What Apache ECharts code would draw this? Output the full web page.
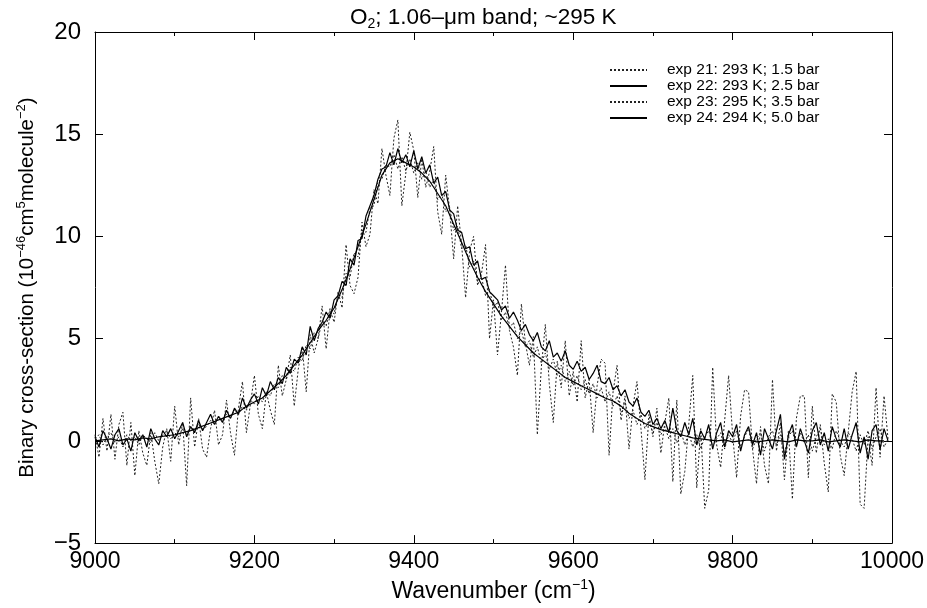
<!DOCTYPE html>
<html>
<head>
<meta charset="utf-8">
<script src="https://cdn.jsdelivr.net/npm/echarts@6/dist/echarts.min.js"></script>
<style>html,body{margin:0;padding:0;background:#fff}#c{width:927px;height:608px}</style>
</head>
<body>
<div id="c"></div>
<script>
// Wavenumber sampling (cm^-1)
const wnStart = 9000;
const stepFine = 5;    // exp 21, 22, 23
const stepCoarse = 10; // exp 24

const seriesNames = [
  'exp 21: 293 K; 1.5 bar',
  'exp 22: 293 K; 2.5 bar',
  'exp 23: 295 K; 3.5 bar',
  'exp 24: 294 K; 5.0 bar'
];

const xTicks = [9000, 9200, 9400, 9600, 9800, 10000];
const yTicks = [-5, 0, 5, 10, 15, 20];

// exp 21 (1.5 bar), 9000..9995 step 5
const exp21 = [
 0.3,-0.8,1.1,-0.5,1.3,-0.9,0.8,1.4,-1.2,0.9,
 -1.7,0.5,-0.6,-1.2,0.4,-1.0,-2.1,-0.3,0.6,-1.0,
 1.7,-0.2,0.9,-2.2,2.1,-0.3,1.1,-0.4,-0.8,0.6,
 1.5,-0.2,0.3,2.0,0.4,-0.7,1.6,2.9,0.4,1.8,
 3.2,1.3,0.6,2.4,1.5,0.8,3.7,2.2,3.0,4.2,
 1.7,3.5,4.6,2.4,5.2,4.3,5.0,6.6,4.5,6.4,
 5.8,7.3,6.5,9.6,7.6,7.2,8.0,10.7,9.5,10.1,
 12.3,11.6,14.3,13.0,12.0,14.8,15.7,11.5,13.1,15.1,
 14.2,11.9,13.8,12.4,13.2,14.4,11.2,10.1,13.0,11.3,
 8.9,11.5,9.6,7.0,9.3,10.0,7.6,8.2,9.6,5.0,
 6.9,4.2,6.3,8.6,5.4,4.6,3.2,6.7,4.8,3.7,
 5.1,0.3,3.6,5.7,2.8,0.9,3.9,2.6,4.9,2.2,
 3.4,1.9,4.9,2.1,3.0,0.4,2.7,4.0,3.8,-0.7,
 2.4,3.7,1.0,2.2,-0.4,1.7,2.9,0.6,-1.9,1.3,
 0.2,1.6,-0.6,0.9,2.1,-2.0,2.0,-2.6,-1.5,0.8,
 3.2,-2.3,0.6,-3.3,-2.4,3.6,-0.2,-1.3,1.0,3.2,
 0.3,-1.8,1.2,2.5,2.4,-0.4,-2.1,0.7,-1.2,-2.1,
 3.0,-0.5,0.9,-1.9,0.5,-2.85,1.1,2.2,2.2,-1.8,
 1.7,-0.6,0.8,-1.1,-2.5,2.3,1.9,-0.7,-1.7,0.4,
 2.4,3.4,-3.1,-3.3,0.2,-1.2,2.6,-0.8,2.2,0.1
];

// exp 22 (2.5 bar), 9000..9995 step 5
const exp22 = [
 0.2,-0.3,0.5,0.1,-0.4,0.3,0.6,-0.2,0.1,-0.5,
 0.4,0.0,0.3,-0.3,0.6,0.1,-0.2,0.5,0.2,0.6,
 0.1,0.5,0.9,0.2,0.7,0.4,1.0,0.5,0.9,1.3,
 0.8,1.2,0.9,1.5,1.1,1.6,1.3,2.1,1.6,2.0,
 2.3,1.8,2.6,2.2,2.9,2.5,3.1,2.8,3.6,3.3,
 4.0,3.8,4.6,4.2,5.6,4.9,5.5,5.8,6.3,6.0,
 6.9,7.1,7.8,7.6,8.9,8.6,9.8,9.9,11.0,11.5,
 12.0,12.8,13.3,13.4,14.1,13.5,14.3,13.6,14.0,13.4,
 14.2,13.3,13.9,13.1,13.5,12.6,12.9,12.0,12.2,11.3,
 11.1,10.3,10.2,9.4,9.5,8.6,8.8,7.9,8.0,7.3,
 7.1,6.9,6.4,6.6,6.0,6.3,5.9,5.4,5.7,5.2,
 4.9,5.3,4.6,4.4,4.9,4.1,4.3,3.9,4.4,3.7,
 3.5,3.9,3.4,3.6,3.0,3.3,3.7,2.9,2.8,3.1,
 2.5,2.7,2.2,2.5,1.9,1.7,2.1,1.4,1.2,1.5,
 0.8,1.1,0.6,1.0,0.4,1.6,0.5,0.2,0.9,0.3,
 1.1,-0.2,0.5,0.1,0.8,-0.4,0.4,0.9,-0.3,0.5,
 0.2,0.8,-0.5,0.3,0.7,-0.2,0.4,-0.7,0.6,0.1,
 -0.4,0.5,1.3,-0.9,0.3,0.8,-0.3,0.6,0.0,-0.6,
 0.5,0.9,-0.2,0.4,-0.5,0.7,0.1,-0.3,0.6,-0.4,
 0.3,0.9,-0.6,0.2,-0.9,0.5,0.8,-0.4,0.6,0.0
];

// exp 23 (3.5 bar), 9000..9995 step 5
const exp23 = [
 0.1,0.3,-0.2,0.2,0.4,-0.1,0.2,-0.3,0.3,0.0,
 0.2,-0.2,0.3,0.1,-0.1,0.4,0.0,0.3,0.5,0.1,
 0.4,0.2,0.6,0.3,0.7,0.5,0.8,0.6,0.7,1.0,
 0.8,1.2,1.0,1.3,1.1,1.5,1.3,1.7,1.5,2.0,
 1.8,2.2,1.9,2.4,2.2,2.8,2.6,3.2,3.0,3.6,
 3.4,4.1,3.9,4.7,4.5,5.3,5.0,5.9,5.6,6.5,
 6.2,7.2,7.0,8.2,8.0,9.2,9.0,10.3,10.2,11.4,
 11.5,12.7,12.8,13.5,13.4,14.0,13.3,13.9,13.2,13.8,
 13.1,13.6,12.8,13.2,12.4,12.8,11.8,12.1,11.2,11.4,
 10.3,10.5,9.4,9.6,8.5,8.8,7.8,8.0,7.1,7.4,
 6.5,6.8,5.9,6.3,5.5,5.8,5.0,5.4,4.6,4.9,
 4.1,4.6,3.8,4.3,3.5,4.0,3.2,3.7,2.9,3.4,
 2.7,3.2,2.5,3.0,2.3,2.8,2.1,2.6,1.9,2.4,
 1.7,2.2,1.4,1.9,1.1,1.5,0.8,1.3,0.6,1.0,
 0.4,0.9,0.3,0.7,0.1,0.6,-0.1,0.5,-0.2,0.4,
 -0.3,0.3,-0.4,0.2,0.5,-0.3,0.1,0.4,-0.4,0.3,
 -0.1,0.5,-0.3,0.2,0.6,-0.4,0.1,0.4,-0.5,0.2,
 0.5,-0.2,0.3,-0.6,0.2,0.5,-0.3,0.4,-0.1,0.3,
 -0.5,0.2,0.6,-0.2,0.1,-0.4,0.5,0.0,-0.3,0.4,
 0.1,-0.5,0.3,-0.2,0.5,-0.4,0.2,0.6,-0.3,0.1
];

// exp 24 (5.0 bar), 9000..9990 step 10
const exp24 = [
 0.0,0.05,0.1,0.0,0.1,0.05,0.15,0.1,0.2,0.25,
 0.3,0.4,0.5,0.65,0.8,0.95,1.1,1.25,1.4,1.7,
 1.9,2.1,2.45,2.8,3.2,3.7,4.2,4.8,5.4,5.9,
 6.5,7.4,8.4,9.5,10.6,11.8,13.0,13.6,13.8,13.6,
 13.4,13.1,12.7,12.1,11.5,10.6,9.7,8.8,8.0,7.3,
 6.7,6.1,5.6,5.1,4.7,4.3,4.0,3.7,3.4,3.1,
 2.9,2.7,2.5,2.3,2.1,1.95,1.7,1.35,1.1,0.85,
 0.7,0.55,0.45,0.35,0.25,0.15,0.1,0.05,0.0,0.05,
 -0.05,0.0,0.05,-0.05,0.0,0.05,0.0,-0.05,0.05,0.0,
 0.0,0.05,-0.05,0.0,0.05,0.0,-0.05,0.05,0.0,0.0
];

function toPairs(values, start, step) {
  return values.map((v, i) => [start + i * step, v]);
}

const FONT = 'Liberation Sans, Arial, Helvetica, sans-serif';
const black = '#000';

const chart = echarts.init(document.getElementById('c'), null, {renderer: 'canvas'});

const mkSeries = (name, data, dotted, z) => ({
  name: name,
  type: 'line',
  data: data,
  showSymbol: false,
  symbol: 'none',
  animation: false,
  z: z,
  lineStyle: {color: dotted ? '#222' : black, width: dotted ? 1 : 1.2, type: dotted ? [2, 2] : 'solid'},
  itemStyle: {color: black}
});

chart.setOption({
  backgroundColor: '#fff',
  animation: false,
  title: {
    text: '{a|O}{s|2}{a|; 1.06–μm band; ~295 K}',
    left: 345,
    top: 0,
    textStyle: {
      fontFamily: FONT,
      fontWeight: 'normal',
      rich: {
        a: {fontSize: 22.5, color: black, fontFamily: FONT, lineHeight: 26, verticalAlign: 'middle'},
        s: {fontSize: 14, color: black, fontFamily: FONT, verticalAlign: 'bottom', lineHeight: 26, padding: [10, 0, 0, 0]}
      }
    }
  },
  legend: {
    orient: 'vertical',
    left: 604,
    top: 57,
    itemWidth: 37,
    itemHeight: 10,
    itemGap: 0,
    data: seriesNames,
    itemStyle: {opacity: 0, color: 'transparent', borderWidth: 0},
    textStyle: {fontFamily: FONT, fontSize: 15.5, color: black, padding: [0, 0, 0, 15]}
  },
  grid: {left: 95, right: 32, top: 32, bottom: 60, show: false},
  xAxis: [
    {
      type: 'value', min: xTicks[0], max: xTicks[xTicks.length - 1], interval: 200,
      position: 'bottom',
      axisLine: {show: true, onZero: false, lineStyle: {color: black, width: 1}},
      axisTick: {show: true, inside: true, length: 8, lineStyle: {color: black}},
      minorTick: {show: true, splitNumber: 2, length: 4, lineStyle: {color: black}},
      splitLine: {show: false},
      axisLabel: {color: black, fontSize: 23, fontFamily: FONT, margin: 7, formatter: v => String(v)},
      name: '{a|Wavenumber (cm}{s|−1}{a|)}',
      nameLocation: 'middle',
      nameGap: 31,
      nameTextStyle: {
        rich: {
          a: {fontSize: 23, color: black, fontFamily: FONT, lineHeight: 27},
          s: {fontSize: 14, color: black, fontFamily: FONT, verticalAlign: 'top', lineHeight: 27, padding: [0, 0, 9, 0]}
        }
      }
    },
    {
      type: 'value', min: xTicks[0], max: xTicks[xTicks.length - 1], interval: 200,
      position: 'top',
      axisLine: {show: true, onZero: false, lineStyle: {color: black, width: 1}},
      axisTick: {show: true, inside: true, length: 8, lineStyle: {color: black}},
      minorTick: {show: true, splitNumber: 2, length: 4, lineStyle: {color: black}},
      splitLine: {show: false},
      axisLabel: {show: false}
    }
  ],
  yAxis: [
    {
      type: 'value', min: yTicks[0], max: yTicks[yTicks.length - 1], interval: 5,
      position: 'left',
      axisLine: {show: true, onZero: false, lineStyle: {color: black, width: 1}},
      axisTick: {show: true, inside: true, length: 8, lineStyle: {color: black}},
      splitLine: {show: false},
      axisLabel: {
        color: black, fontSize: 24, fontFamily: FONT, margin: 14,
        formatter: v => (v < 0 ? '−' + Math.abs(v) : String(v))
      },
      name: '{a|Binary cross-section (10}{s|−46}{a|cm}{s|5}{a|molecule}{s|−2}{a|)}',
      nameLocation: 'middle',
      nameGap: 55,
      nameRotate: 90,
      nameTextStyle: {
        rich: {
          a: {fontSize: 20.5, color: black, fontFamily: FONT, lineHeight: 25},
          s: {fontSize: 13, color: black, fontFamily: FONT, verticalAlign: 'top', lineHeight: 25, padding: [0, 0, 8, 0]}
        }
      }
    },
    {
      type: 'value', min: yTicks[0], max: yTicks[yTicks.length - 1], interval: 5,
      position: 'right',
      axisLine: {show: true, onZero: false, lineStyle: {color: black, width: 1}},
      axisTick: {show: true, inside: true, length: 8, lineStyle: {color: black}},
      splitLine: {show: false},
      axisLabel: {show: false}
    }
  ],
  series: [
    mkSeries(seriesNames[0], toPairs(exp21, wnStart, stepFine), true, 2),
    mkSeries(seriesNames[1], toPairs(exp22, wnStart, stepFine), false, 3),
    mkSeries(seriesNames[2], toPairs(exp23, wnStart, stepFine), true, 4),
    mkSeries(seriesNames[3], toPairs(exp24, wnStart, stepCoarse), false, 5)
  ]
});
</script>
</body>
</html>
